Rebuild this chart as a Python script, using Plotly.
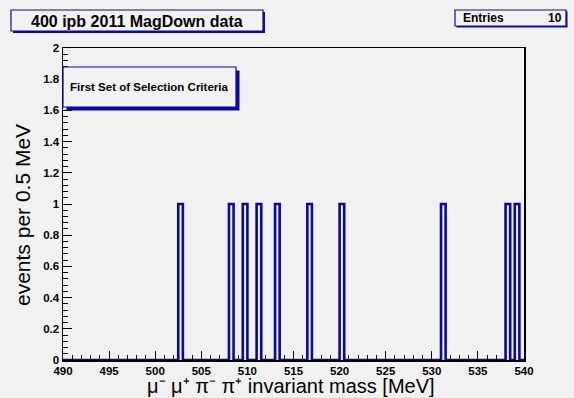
import numpy as np
import plotly.graph_objects as go

# ---- data ----
entries = [502.75, 508.25, 509.75, 511.25, 513.25, 516.75, 520.25, 531.25, 538.25, 539.25]
bin_lo, bin_hi, bin_w = 490.0, 540.0, 0.5
title_text = "400 ipb 2011 MagDown data"
stats_label = "Entries"
stats_value = "10"
legend_text = "First Set of Selection Criteria"
x_title = "μ\u207b μ\u207a π\u207b π\u207a invariant mass [MeV]"
y_title = "events per 0.5 MeV"

edges = np.arange(bin_lo, bin_hi + bin_w / 2, bin_w)
counts, _ = np.histogram(entries, bins=edges)
step_y = np.append(counts, counts[-1])

BG = "#f1f1f1"
BLUE = "#0a0a9c"
W, H = 574, 398
L, R, T, B = 63, 524, 48, 360

def px(x):
    return (x - L) / (R - L)

def py(y):
    return (B - y) / (B - T)

fig = go.Figure()
fig.add_trace(go.Scatter(
    x=edges, y=step_y, mode="lines", line=dict(shape="hv", color=BLUE, width=2.6),
    hoverinfo="skip", showlegend=False,
))

font_b = dict(family="Liberation Sans", color="black", weight="bold")

fig.update_layout(
    width=W, height=H,
    margin=dict(l=L, r=W - R, t=T, b=H - B, pad=0),
    paper_bgcolor=BG, plot_bgcolor=BG,
    showlegend=False,
    xaxis=dict(
        range=[bin_lo, bin_hi], dtick=5, tick0=490, ticks="inside", ticklen=9, tickwidth=1,
        tickcolor="black", showline=True, linecolor="black", linewidth=1.5, mirror=True,
        showgrid=False, zeroline=False, layer="below traces",
        tickfont=dict(size=11.5, **font_b), ticklabelstandoff=0,
        minor=dict(dtick=1, ticks="inside", ticklen=5, tickcolor="black", showgrid=False),
    ),
    yaxis=dict(
        range=[0, 2], dtick=0.2, tick0=0, ticks="inside", ticklen=9, tickwidth=1,
        tickcolor="black", showline=True, linecolor="black", linewidth=1.5, mirror=True,
        showgrid=False, zeroline=False, layer="below traces",
        tickfont=dict(size=11.5, **font_b),
        minor=dict(dtick=0.04, ticks="inside", ticklen=5, tickcolor="black", showgrid=False),
    ),
)

shapes = []
def box(x0, y0, x1, y1, sh=2):
    shapes.append(dict(type="rect", xref="paper", yref="paper",
                       x0=px(x0 + sh), x1=px(x1 + sh), y0=py(y1 + sh), y1=py(y0 + sh),
                       fillcolor=BLUE, line=dict(width=0), layer="above"))
    shapes.append(dict(type="rect", xref="paper", yref="paper",
                       x0=px(x0), x1=px(x1), y0=py(y1), y1=py(y0),
                       fillcolor="#f2f2f2", line=dict(color=BLUE, width=1.2), layer="above"))

box(11, 10, 263, 31, sh=2)
box(455, 10, 566, 26, sh=1.5)
box(63, 67, 236, 107, sh=3.5)
fig.update_layout(shapes=shapes)

ann = []
ann.append(dict(text=title_text, x=px(137), y=py(21), xref="paper", yref="paper",
                showarrow=False, xanchor="center", yanchor="middle", font=dict(size=16, **font_b)))
ann.append(dict(text=stats_label, x=px(461), y=py(18), xref="paper", yref="paper",
                showarrow=False, xanchor="left", yanchor="middle", font=dict(size=12, **font_b)))
ann.append(dict(text=stats_value, x=px(564), y=py(18), xref="paper", yref="paper",
                showarrow=False, xanchor="right", yanchor="middle", font=dict(size=12, **font_b)))
ann.append(dict(text=legend_text, x=px(149), y=py(87), xref="paper", yref="paper",
                showarrow=False, xanchor="center", yanchor="middle", font=dict(size=11.5, **font_b)))
ann.append(dict(text=x_title, x=px(291), y=py(398), xref="paper", yref="paper",
                showarrow=False, xanchor="center", yanchor="bottom", borderpad=0,
                font=dict(family="Liberation Sans", size=20, color="black")))
ann.append(dict(text=y_title, x=px(22), y=py(215), xref="paper", yref="paper", textangle=-90,
                showarrow=False, xanchor="center", yanchor="middle",
                font=dict(family="Liberation Sans", size=21, color="black")))
fig.update_layout(annotations=ann)

fig.write_html(
    "out.html",
    config={"displayModeBar": False, "staticPlot": True},
    post_script="document.body.style.margin='0';document.body.style.padding='0';"
                "document.body.style.background='%s';document.body.style.overflow='hidden';" % BG,
)
